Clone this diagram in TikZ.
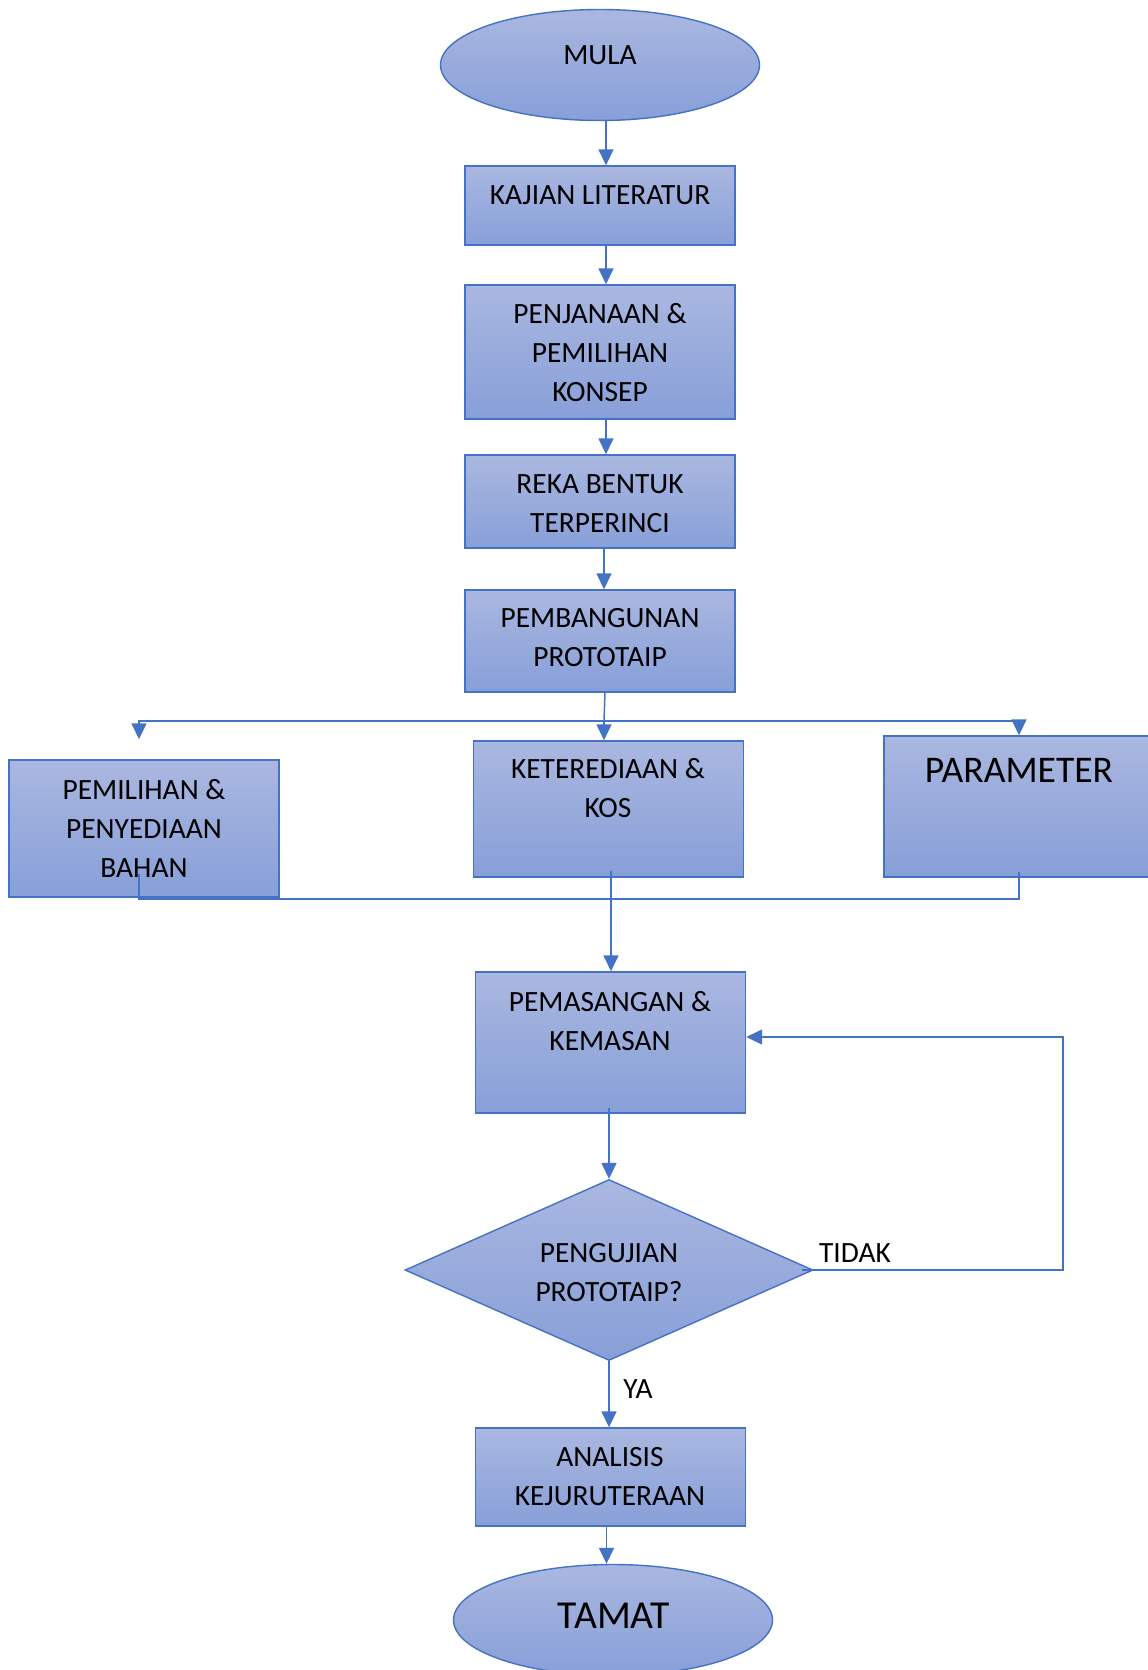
\documentclass[tikz,border=0pt]{standalone}
\usepackage{fontspec}
\setmainfont{Carlito}
\usetikzlibrary{shapes.geometric,arrows.meta}
\definecolor{fcline}{RGB}{68,114,196}
\definecolor{fctop}{RGB}{170,183,224}
\definecolor{fcbot}{RGB}{135,159,216}
\tikzset{
  fc_shape/.style = {draw=fcline, line width=0.7pt, top color=fctop, bottom color=fcbot, inner sep=0pt},
  fc_box/.style = {fc_shape, rectangle, minimum width=135pt, minimum height=#1},
  fc_end/.style = {fc_shape, ellipse, minimum width=159.5pt, minimum height=55.5pt},
  fc_dec/.style = {fc_shape, diamond, minimum width=204pt, minimum height=90.5pt},
  fc_txt/.style = {align=center, inner sep=0pt, font=\fontsize{14.7}{19.5}\selectfont},
  fc_line/.style = {draw=fcline, line width=0.75pt},
  fc_arr/.style = {fc_line, -{Triangle[width=7.5pt,length=8pt]}},
}

\begin{document}
\begin{tikzpicture}[x=0.5pt, y=-0.5pt]
  \useasboundingbox (0,0) rectangle (1147,1670);
  % shapes
  \node [fc_end] (mula) at (600,65) {};
  \node [fc_box=39.5pt] (kajian) at (600,205.5) {};
  \node [fc_box=67pt] (penjanaan) at (600,352) {};
  \node [fc_box=46.5pt] (reka) at (600,501.5) {};
  \node [fc_box=51pt] (pembangunan) at (600,641) {};
  \node [fc_box=68.5pt] (pemilihan) at (144,828.5) {};
  \node [fc_box=68pt] (keterediaan) at (608.5,809) {};
  \node [fc_box=70.5pt] (parameter) at (1019,806.5) {};
  \node [fc_box=70.5pt] (pemasangan) at (610.5,1042.5) {};
  \node [fc_dec] (pengujian) at (609,1270) {};
  \node [fc_box=49pt] (analisis) at (610.5,1477) {};
  \node [fc_end] (tamat) at (613,1620) {};

  % connectors
  \coordinate (cabang) at (604,721);
  \coordinate (gabung) at (611,899);
  \coordinate (balik) at (1063,1037);
  \draw [fc_arr] ([xshift=3pt]mula.south) -- ([xshift=3pt]kajian.north);
  \draw [fc_arr] ([xshift=3pt]kajian.south) -- ([xshift=3pt]penjanaan.north);
  \draw [fc_arr] ([xshift=3pt]penjanaan.south) -- ([xshift=3pt]reka.north);
  \draw [fc_arr] ([xshift=2pt]reka.south) -- ([xshift=2pt]pembangunan.north);
  \draw [fc_line] ([xshift=2.5pt]pembangunan.south) -- (cabang);
  \draw [fc_arr] (cabang) -- (cabang |- keterediaan.north);
  \draw [fc_arr] (cabang) -| ([xshift=-2.5pt,yshift=10pt]pemilihan.north);
  \draw [fc_arr] (cabang) -| (parameter.north);
  \draw [fc_line] ([xshift=-2.5pt,yshift=12pt]pemilihan.south) |- (gabung) -| ([yshift=3pt]parameter.south);
  \draw [fc_arr] ([yshift=3.5pt]keterediaan.south -| gabung) -- (gabung |- pemasangan.north);
  \draw [fc_arr] ([yshift=3pt]pemasangan.south -| pengujian.north) -- (pengujian.north);
  \draw [fc_arr] (pengujian) -- (analisis.north -| pengujian.south);
  \draw [fc_arr] ([xshift=-2pt]analisis.south) -- ([xshift=-2pt]analisis.south |- tamat.north);
  \draw [fc_arr] ([xshift=-6pt]pengujian.east) -| (balik) -- (balik -| pemasangan.east);

  % texts
  \node [fc_txt] (mula-t) at (600,55) {MULA};
  \node [fc_txt] (kajian-t) at (600,195) {KAJIAN LITERATUR};
  \node [fc_txt] (penjanaan-t) at (600,353) {PENJANAAN \&\\PEMILIHAN\\KONSEP};
  \node [fc_txt] (reka-t) at (600,504) {REKA BENTUK\\TERPERINCI};
  \node [fc_txt] (pembangunan-t) at (600,638) {PEMBANGUNAN\\PROTOTAIP};
  \node [fc_txt] (pemilihan-t) at (144,828.5) {PEMILIHAN \&\\PENYEDIAAN\\BAHAN};
  \node [fc_txt] (keterediaan-t) at (608,788.5) {KETEREDIAAN \&\\KOS};
  \node [fc_txt, font=\fontsize{18.8}{22}\selectfont] (parameter-t) at (1019,770) {PARAMETER};
  \node [fc_txt] (pemasangan-t) at (610,1021.5) {PEMASANGAN \&\\KEMASAN};
  \node [fc_txt] (pengujian-t) at (609,1273) {PENGUJIAN\\PROTOTAIP?};
  \node [fc_txt] (analisis-t) at (610,1477) {ANALISIS\\KEJURUTERAAN};
  \node [fc_txt, font=\fontsize{19.8}{22}\selectfont] (tamat-t) at (614,1616) {TAMAT};
  \node [fc_txt] (tidak) at (855,1253) {TIDAK};
  \node [fc_txt] (ya) at (638,1389) {YA};
\end{tikzpicture}
\end{document}
